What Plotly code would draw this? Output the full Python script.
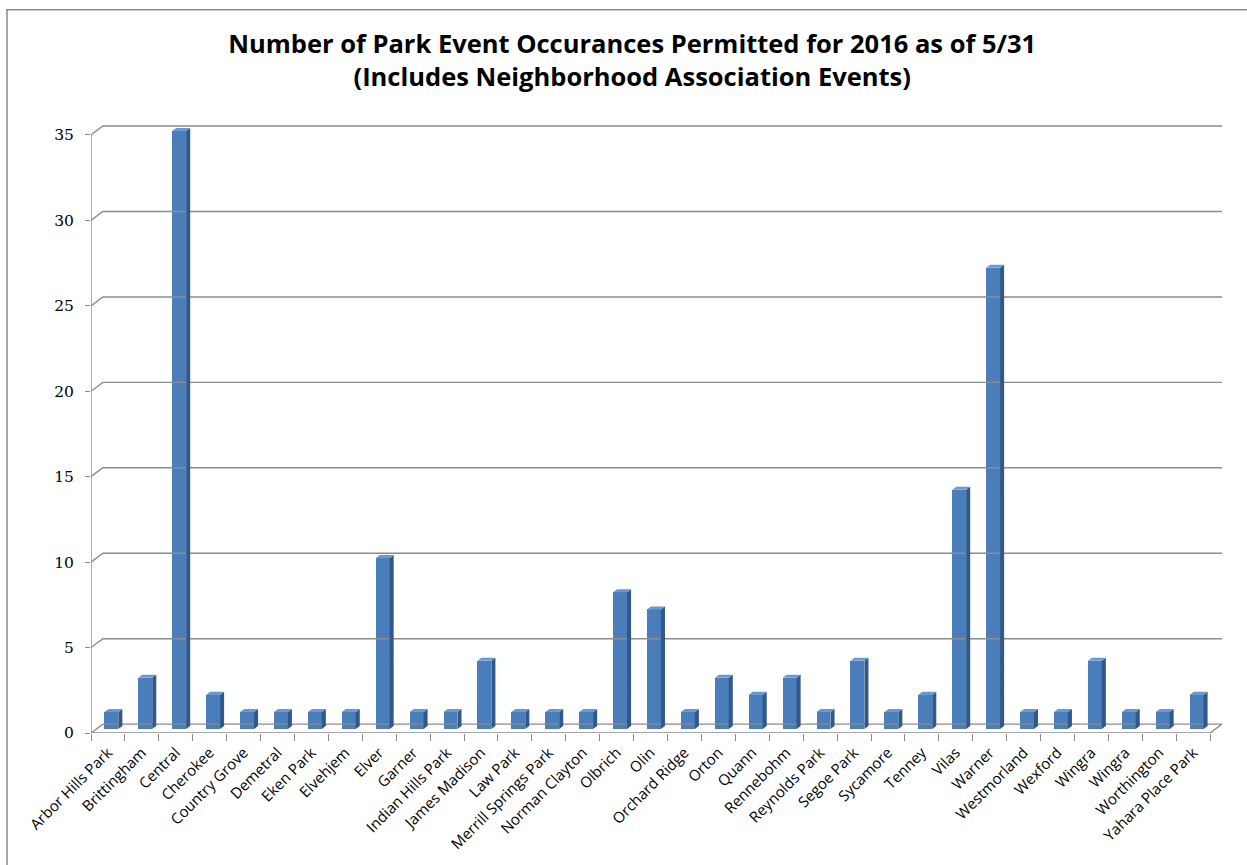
import plotly.graph_objects as go

# ---------------- data ----------------
categories = ["Arbor Hills Park", "Brittingham", "Central", "Cherokee", "Country Grove",
              "Demetral", "Eken Park", "Elvehjem", "Elver", "Garner", "Indian Hills Park",
              "James Madison", "Law Park", "Merrill Springs Park", "Norman Clayton",
              "Olbrich", "Olin", "Orchard Ridge", "Orton", "Quann", "Rennebohm",
              "Reynolds Park", "Segoe Park", "Sycamore", "Tenney", "Vilas", "Warner",
              "Westmorland", "Wexford", "Wingra", "Wingra", "Worthington", "Yahara Place Park"]
values = [1, 3, 35, 2, 1, 1, 1, 1, 10, 1, 1, 4, 1, 1, 1, 8, 7, 1, 3, 2, 3, 1, 4, 1, 2,
          14, 27, 1, 1, 4, 1, 1, 2]
y_ticks = [0, 5, 10, 15, 20, 25, 30, 35]

title_text = ("Number of Park Event Occurances Permitted for 2016 as of 5/31<br>"
              "(Includes Neighborhood Association Events)")

# ---------------- pseudo-3D geometry (in axis units) ----------------
n = len(categories)
idx = list(range(n))
WALL_DX, WALL_DY = 0.35, 0.52     # depth of the floor / walls
BAR_SHIFT, BAR_W = 0.10, 0.41     # bar front-face centre offset & width
BAR_BASE = 0.23                   # bar bottom sits slightly behind front edge
BAR_DX, BAR_DY = 0.12, 0.18       # bar depth

FRONT = "#4A7EBB"
SIDE = "#30588A"
TOP = "#6A98D0"
GRID = "#8C8C8C"

fig = go.Figure()

# back-wall gridlines with the diagonal on the left wall
gx, gy = [], []
for t in y_ticks:
    gx += [-0.5, -0.5 + WALL_DX, n - 0.5 + WALL_DX, None]
    gy += [t, t + WALL_DY, t + WALL_DY, None]
# floor front edge and right edge
gx += [-0.5, n - 0.5, n - 0.5 + WALL_DX, None]
gy += [0, 0, WALL_DY, None]
# left vertical axis line
gx += [-0.5, -0.5, None]
gy += [0, y_ticks[-1], None]
fig.add_trace(go.Scatter(x=gx, y=gy, mode="lines", line=dict(color=GRID, width=1.4),
                         hoverinfo="skip", showlegend=False))

# front faces
fig.add_trace(go.Bar(x=[i + BAR_SHIFT for i in idx], y=values, base=BAR_BASE, width=BAR_W,
                     marker=dict(color=FRONT, line=dict(width=0)),
                     hovertext=categories, showlegend=False))

# side and top faces
sx, sy, tx, ty = [], [], [], []
for i, v in zip(idx, values):
    l = i + BAR_SHIFT - BAR_W / 2
    r = i + BAR_SHIFT + BAR_W / 2
    b = BAR_BASE
    top = BAR_BASE + v
    sx += [r, r + BAR_DX, r + BAR_DX, r, r, None]
    sy += [b, b + BAR_DY, top + BAR_DY, top, b, None]
    tx += [l, r, r + BAR_DX, l + BAR_DX, l, None]
    ty += [top, top, top + BAR_DY, top + BAR_DY, top, None]
fig.add_trace(go.Scatter(x=sx, y=sy, mode="lines", fill="toself", fillcolor=SIDE,
                         line=dict(width=0, color=SIDE), hoverinfo="skip", showlegend=False))
fig.add_trace(go.Scatter(x=tx, y=ty, mode="lines", fill="toself", fillcolor=TOP,
                         line=dict(width=0, color=TOP), hoverinfo="skip", showlegend=False))

fig.update_layout(
    width=1247, height=865,
    margin=dict(l=91, r=25, t=117, b=128, pad=0),
    paper_bgcolor="white", plot_bgcolor="rgba(0,0,0,0)",
    bargap=0,
    title=dict(text=title_text, x=0.507, xref="container", xanchor="center",
               y=0.939, yanchor="top",
               font=dict(family="Open Sans", size=25.5, color="black", weight="bold")),
    font=dict(family="Open Sans", color="black"),
    xaxis=dict(range=[-0.5, n - 0.5 + WALL_DX], tickmode="array", tickvals=idx,
               ticktext=categories, tickangle=-45, ticks="", showgrid=False,
               zeroline=False, showline=False, ticklabelstandoff=7,
               tickfont=dict(family="Open Sans", size=15),
               minor=dict(tickmode="array", tickvals=[i - 0.5 for i in range(n + 1)],
                          ticks="outside", ticklen=7, tickcolor=GRID, tickwidth=1.3,
                          showgrid=False)),
    yaxis=dict(range=[0, 36.05], tickmode="array", tickvals=y_ticks, ticks="outside",
               ticklen=5, tickcolor=GRID, tickwidth=1.3, showgrid=False, zeroline=False,
               showline=False, ticklabelstandoff=8,
               tickfont=dict(family="DejaVu Serif", size=15.5)),
)

# outer chart border (top and left visible)
fig.add_shape(type="rect", xref="paper", yref="paper",
              x0=(7 - 91) / 1131, x1=1.3, y0=-0.6, y1=(737 - 9) / 620,
              line=dict(color="#8A8A8A", width=1.5), fillcolor="rgba(0,0,0,0)", layer="below")

fig.write_html("out.html", config={"displayModeBar": False},
               post_script="document.body.style.margin='0';document.body.style.overflow='hidden';")
